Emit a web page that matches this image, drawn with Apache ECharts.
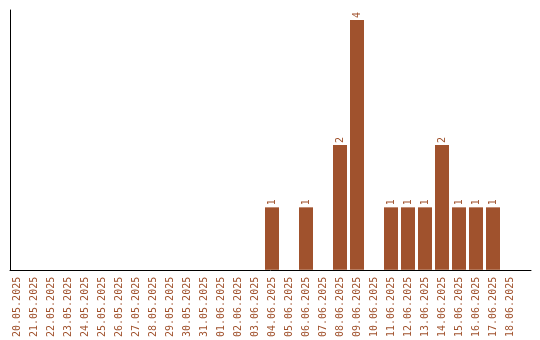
<!DOCTYPE html>
<html>
<head>
<meta charset="utf-8">
<script src="https://cdn.jsdelivr.net/npm/echarts@6/dist/echarts.min.js"></script>
<style>html,body{margin:0;padding:0;background:#fff}#c{width:540px;height:340px}</style>
</head>
<body>
<div id="c"></div>
<script>
const categories = ["20.05.2025","21.05.2025","22.05.2025","23.05.2025","24.05.2025","25.05.2025","26.05.2025","27.05.2025","28.05.2025","29.05.2025","30.05.2025","31.05.2025","01.06.2025","02.06.2025","03.06.2025","04.06.2025","05.06.2025","06.06.2025","07.06.2025","08.06.2025","09.06.2025","10.06.2025","11.06.2025","12.06.2025","13.06.2025","14.06.2025","15.06.2025","16.06.2025","17.06.2025","18.06.2025"];
const counts = [0,0,0,0,0,0,0,0,0,0,0,0,0,0,0,1,0,1,0,2,4,0,1,1,1,2,1,1,1,0];

const barColor = '#A0522D';
const font = 'DejaVu Sans Mono';

const chart = echarts.init(document.getElementById('c'), null, {renderer: 'canvas'});
chart.setOption({
  animation: false,
  backgroundColor: '#fff',
  grid: [
    {left: 8.5, width: 510, top: 10, height: 260},
    {left: 10, right: 9, top: 10, height: 260}
  ],
  xAxis: [
    {
      type: 'category', gridIndex: 0, data: categories,
      axisLine: {show: false}, axisTick: {show: false},
      axisLabel: {rotate: 90, interval: 0, margin: 7, color: barColor, fontFamily: font, fontSize: 10}
    },
    {
      type: 'value', gridIndex: 1, min: 0, max: 1,
      axisLine: {show: true, lineStyle: {color: '#000', width: 1}},
      axisTick: {show: false}, axisLabel: {show: false}, splitLine: {show: false}
    }
  ],
  yAxis: [
    {
      type: 'value', gridIndex: 0, min: 0, max: 4.16,
      axisLine: {show: false}, axisTick: {show: false}, axisLabel: {show: false}, splitLine: {show: false}
    },
    {
      type: 'value', gridIndex: 1, min: 0, max: 1,
      axisLine: {show: true, lineStyle: {color: '#000', width: 1}},
      axisTick: {show: false}, axisLabel: {show: false}, splitLine: {show: false}
    }
  ],
  series: [{
    type: 'bar', xAxisIndex: 0, yAxisIndex: 0,
    data: counts.map(v => v === 0 ? null : v),
    barWidth: 14,
    itemStyle: {color: barColor},
    label: {
      show: true, position: 'top', rotate: 90, align: 'left', verticalAlign: 'middle',
      distance: 2, color: barColor, fontFamily: font, fontSize: 10
    }
  }]
});
</script>
</body>
</html>
